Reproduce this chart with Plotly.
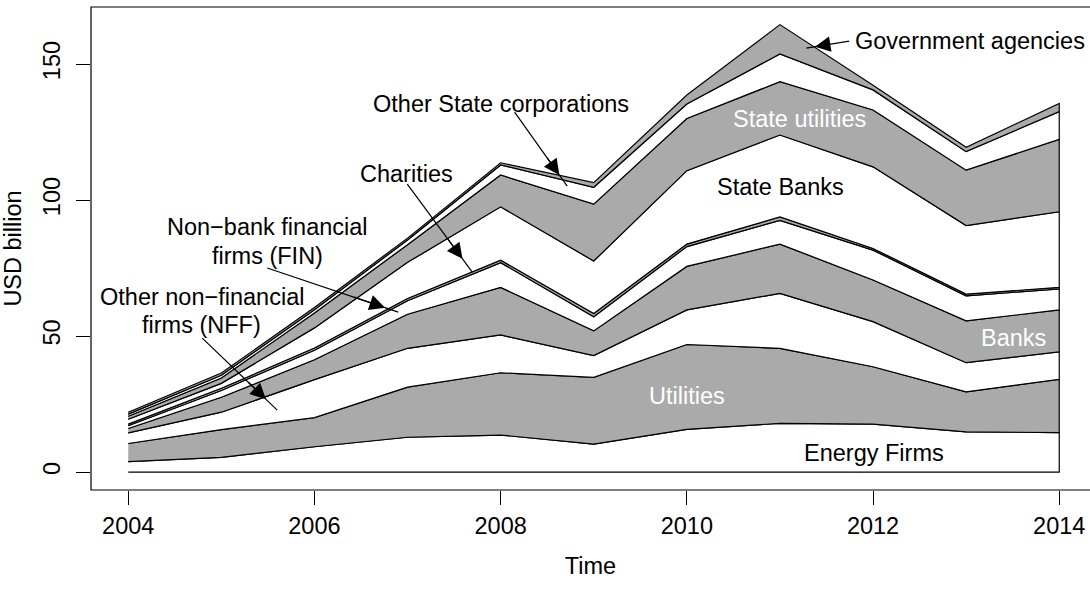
import plotly.graph_objects as go

years = [2004, 2005, 2006, 2007, 2008, 2009, 2010, 2011, 2012, 2013, 2014]

# layer values (USD billion), bottom to top
energy_firms      = [3.8, 5.4, 9.3, 12.8, 13.6, 10.3, 15.7, 17.9, 17.6, 14.8, 14.5]
utilities         = [6.7, 10.2, 10.7, 18.4, 22.9, 24.5, 31.2, 27.6, 21.1, 14.7, 19.6]
other_nff         = [3.9, 6.4, 14.0, 14.3, 13.9, 8.0, 12.7, 20.2, 16.6, 10.7, 10.1]
banks             = [1.6, 5.5, 7.3, 12.5, 17.5, 9.1, 16.0, 18.1, 15.3, 15.4, 15.4]
nonbank_fin       = [1.0, 2.5, 3.5, 5.0, 9.1, 5.2, 7.3, 8.7, 11.0, 9.2, 7.7]
charities         = [0.6, 0.8, 0.8, 0.8, 0.9, 1.2, 0.9, 1.3, 0.6, 0.6, 0.6]
state_banks       = [1.8, 1.8, 7.4, 13.3, 19.6, 19.3, 27.0, 30.1, 30.0, 25.2, 27.8]
state_utilities   = [1.1, 2.0, 5.5, 6.5, 11.7, 20.9, 19.2, 19.6, 20.9, 20.4, 26.6]
other_state_corps = [0.8, 1.0, 1.2, 1.7, 3.7, 6.2, 5.3, 10.2, 7.4, 6.8, 10.2]
gov_agencies      = [0.7, 0.8, 0.8, 0.7, 0.8, 1.7, 3.3, 10.8, 1.7, 1.6, 3.0]

layers = [energy_firms, utilities, other_nff, banks, nonbank_fin, charities,
          state_banks, state_utilities, other_state_corps, gov_agencies]
layer_names = ["Energy Firms", "Utilities", "Other NFF", "Banks", "FIN", "Charities",
               "State Banks", "State utilities", "Other State corporations",
               "Government agencies"]

x_ticks = [2004, 2006, 2008, 2010, 2012, 2014]
y_ticks = [0, 50, 100, 150]

GRAY = "#AAAAAA"
FONT = "Liberation Sans, Arial, Helvetica, sans-serif"
FS = 23.5

fig = go.Figure()

lower = [0.0] * len(years)
for i, vals in enumerate(layers):
    upper = [lo + v for lo, v in zip(lower, vals)]
    fig.add_trace(go.Scatter(
        x=years + years[::-1],
        y=upper + lower[::-1],
        mode="lines",
        fill="toself",
        fillcolor="white" if i % 2 == 0 else GRAY,
        line=dict(color="black", width=1.2),
        name=layer_names[i],
        showlegend=False,
        hoverinfo="skip",
    ))
    lower = upper

# text labels (x in years, y in USD billion)
labels = [
    ("Government agencies", 2011.787, 158.5, "left", "black"),
    ("Other State corporations", 2008.0, 135.3, "center", "black"),
    ("Charities", 2006.99, 109.6, "center", "black"),
    ("Non\u2212bank financial", 2005.50, 90.1, "center", "black"),
    ("firms (FIN)", 2005.50, 79.4, "center", "black"),
    ("Other non\u2212financial", 2004.79, 64.4, "center", "black"),
    ("firms (NFF)", 2004.79, 54.0, "center", "black"),
    ("State utilities", 2011.205, 129.7, "center", "white"),
    ("State Banks", 2011.01, 104.9, "center", "black"),
    ("Banks", 2013.506, 49.15, "center", "white"),
    ("Utilities", 2010.0, 27.9, "center", "white"),
    ("Energy Firms", 2012.01, 6.9, "center", "black"),
]
for txt, xx, yy, anc, col in labels:
    fig.add_annotation(x=xx, y=yy, text=txt, showarrow=False, xanchor=anc,
                       yanchor="middle", font=dict(family=FONT, size=FS, color=col))

# arrows: start, line end, relative position of the arrow head along the line
arrows = [
    ((2011.744, 158.46), (2011.283, 155.88), 0.80),
    ((2008.15, 132.35), (2008.715, 105.15), 0.85),
    ((2006.997, 105.88), (2007.695, 73.53), 0.85),
    ((2005.493, 75.0), (2006.900, 58.82), 0.90),
    ((2004.795, 49.26), (2005.600, 22.79), 0.85),
]
for s, e, t in arrows:
    hx, hy = s[0] + t * (e[0] - s[0]), s[1] + t * (e[1] - s[1])
    tx, ty = s[0] + (t - 0.25) * (e[0] - s[0]), s[1] + (t - 0.25) * (e[1] - s[1])
    fig.add_shape(type="line", xref="x", yref="y", x0=s[0], y0=s[1], x1=e[0], y1=e[1],
                  line=dict(color="black", width=1.2))
    fig.add_annotation(x=hx, y=hy, ax=tx, ay=ty, axref="x", ayref="y",
                       xref="x", yref="y", text="", showarrow=True,
                       arrowhead=2, arrowsize=2.6, arrowwidth=1.2, arrowcolor="black")

# box (right side lies outside the image as in the reference)
fig.add_shape(type="rect", xref="paper", yref="paper", x0=0, x1=1.05, y0=0, y1=1,
              line=dict(color="black", width=1.2), layer="above")

fig.update_layout(
    width=1090, height=589,
    margin=dict(l=91, r=0, t=7, b=99),
    paper_bgcolor="white", plot_bgcolor="white",
    showlegend=False,
    font=dict(family=FONT, size=FS, color="black"),
    xaxis=dict(range=[2003.6, 2003.6 + 999 / 93.1], tickvals=x_ticks,
               ticktext=[str(v) for v in x_ticks],
               showgrid=False, zeroline=False, showline=False,
               ticks="outside", ticklen=14, tickwidth=1.2, tickcolor="black",
               ticklabelstandoff=1,
               title=dict(text="Time", font=dict(family=FONT, size=FS), standoff=19)),
    yaxis=dict(range=[-6.6, -6.6 + 483 / 2.72], tickvals=y_ticks,
               ticktext=[str(v) for v in y_ticks], tickangle=-90,
               showgrid=False, zeroline=False, showline=False,
               ticks="outside", ticklen=14, tickwidth=1.2, tickcolor="black",
               ticklabelstandoff=7,
               title=dict(text="USD billion", font=dict(family=FONT, size=FS), standoff=13)),
)

fig.write_html("out.html", config={"displayModeBar": False},
               post_script="document.body.style.margin='0';document.body.style.padding='0';"
                           "document.body.style.overflow='hidden';")
